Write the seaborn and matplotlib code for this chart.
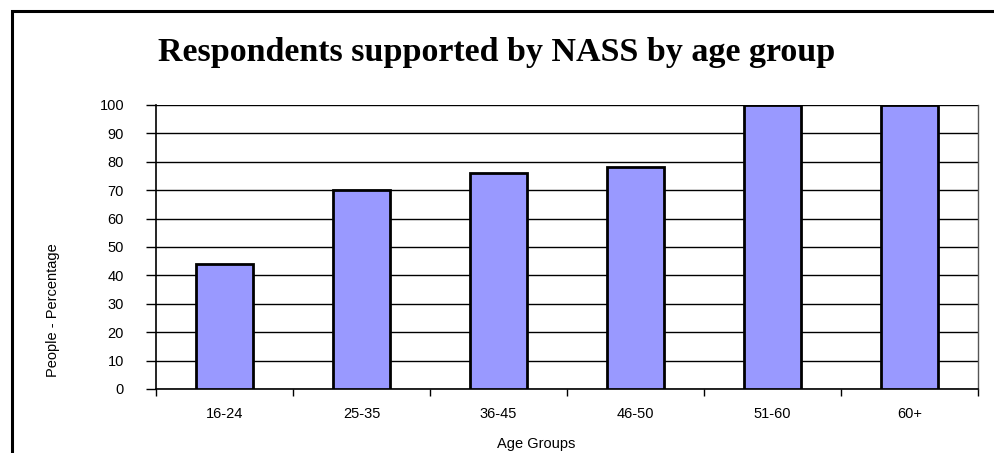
import matplotlib
matplotlib.use('Agg')
import matplotlib.pyplot as plt
import seaborn as sns
import pandas as pd
from matplotlib.patches import Rectangle

# Data
age_groups = ['16-24', '25-35', '36-45', '46-50', '51-60', '60+']
percentages = [44, 70, 76, 78, 100, 100]

df = pd.DataFrame({'age': age_groups, 'pct': percentages})

sns.set_style('white')
plt.rcParams['font.family'] = ['Liberation Sans', 'DejaVu Sans']
plt.rcParams['text.color'] = 'black'
plt.rcParams['axes.labelcolor'] = 'black'
plt.rcParams['xtick.color'] = 'black'
plt.rcParams['ytick.color'] = 'black'

fig = plt.figure(figsize=(9.94, 4.53), dpi=100)
ax = fig.add_axes([156 / 994, 1 - 389 / 453, (978 - 156) / 994, (389 - 105) / 453])

sns.barplot(data=df, x='age', y='pct', ax=ax, color='#9999FF', saturation=1,
            width=0.41, edgecolor='black', linewidth=2, zorder=3)

ax.set_ylim(0, 100)
ax.set_xlim(-0.5, len(age_groups) - 0.5)
ax.set_yticks(range(0, 101, 10))
ax.yaxis.grid(True, color='black', linewidth=1, zorder=0)
ax.tick_params(axis='y', which='major', left=True, length=7, width=1, color='black',
               labelsize=10.5, pad=16)

# category boundaries get the tick marks, labels sit under the bars
ax.set_xticks([i - 0.5 for i in range(len(age_groups) + 1)])
ax.set_xticklabels([])
ax.set_xticks(range(len(age_groups)), minor=True)
ax.set_xticklabels(age_groups, minor=True)
ax.tick_params(axis='x', which='major', bottom=True, length=5, width=1, color='black')
ax.tick_params(axis='x', which='minor', bottom=False, labelsize=10.5, pad=11)

for side in ['left', 'bottom']:
    ax.spines[side].set_color('black')
    ax.spines[side].set_linewidth(1.2)
ax.spines['top'].set_visible(False)
ax.spines['right'].set_color('#555555')
ax.spines['right'].set_linewidth(1)

ax.set_xlabel('Age Groups', fontsize=10.5)
ax.xaxis.set_label_coords((536 - 156) / (978 - 156), -(437 - 389) / (389 - 105))
ax.set_ylabel('People - Percentage', fontsize=10.5)
ax.yaxis.set_label_coords(-(156 - 60) / (978 - 156), (389 - 310) / (389 - 105))

fig.text(497 / 994, 1 - 53 / 453, 'Respondents supported by NASS by age group',
         ha='center', va='center', fontsize=24.5, fontweight='bold', color='black',
         family=['Liberation Serif', 'DejaVu Serif'])

# outer chart frame, cut off at right and bottom
fig.patches.append(Rectangle((12 / 994, -0.1), 1.2, 1.1 - 11 / 453,
                             transform=fig.transFigure, fill=False,
                             edgecolor='black', linewidth=2.2))

fig.savefig('out.png', dpi=100)
